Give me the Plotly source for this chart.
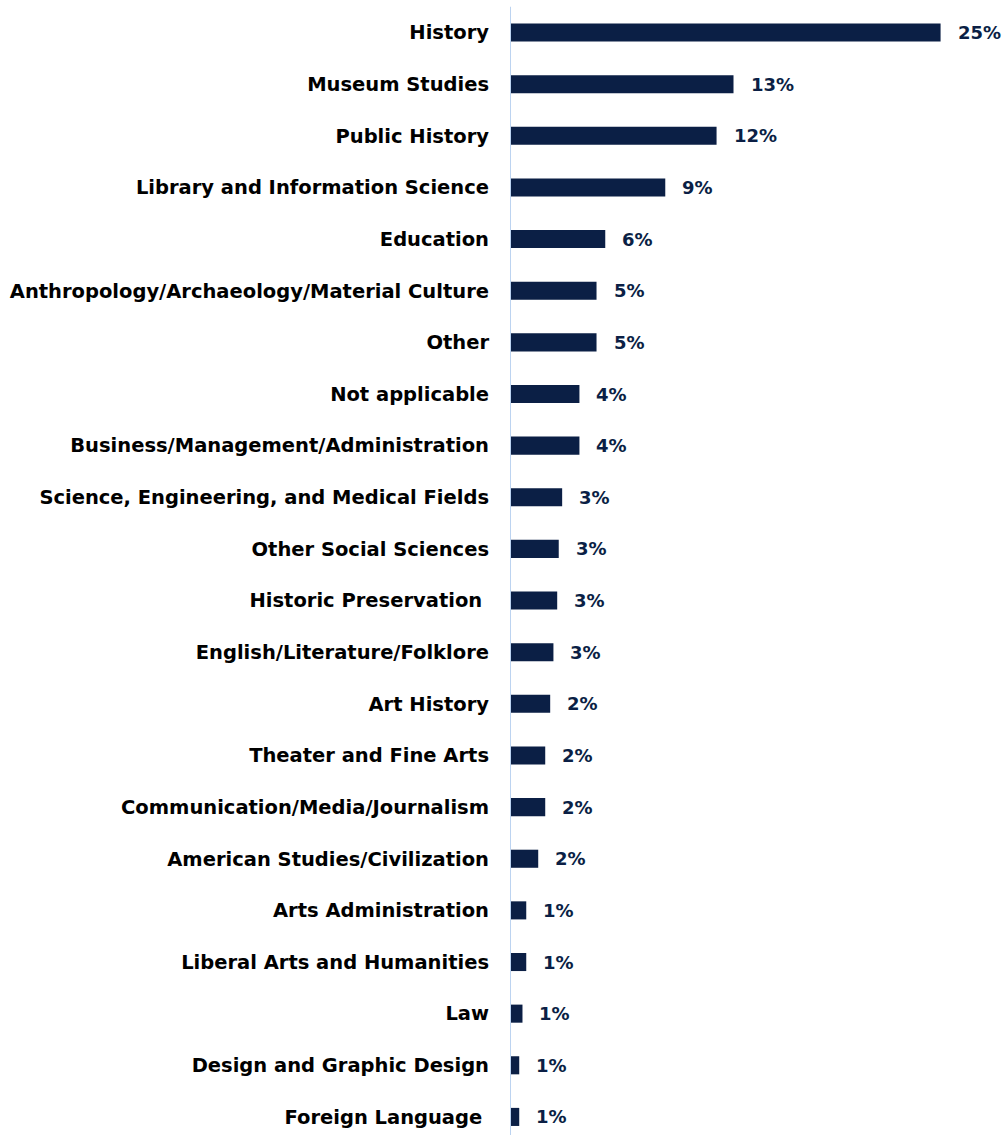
import plotly.graph_objects as go

# Fields of study, top to bottom
fields = [
    "History",
    "Museum Studies",
    "Public History",
    "Library and Information Science",
    "Education",
    "Anthropology/Archaeology/Material Culture",
    "Other",
    "Not applicable",
    "Business/Management/Administration",
    "Science, Engineering, and Medical Fields",
    "Other Social Sciences",
    "Historic Preservation\u00a0",
    "English/Literature/Folklore",
    "Art History",
    "Theater and Fine Arts",
    "Communication/Media/Journalism",
    "American Studies/Civilization",
    "Arts Administration",
    "Liberal Arts and Humanities",
    "Law",
    "Design and Graphic Design",
    "Foreign Language\u00a0",
]

# Share of respondents (fraction)
shares = [
    0.2518, 0.1307, 0.1208, 0.0908, 0.0557, 0.0506, 0.0506, 0.0406,
    0.0406, 0.0305, 0.0285, 0.0276, 0.0254, 0.0235, 0.0206, 0.0206,
    0.0165, 0.0095, 0.0095, 0.0073, 0.0054, 0.0054,
]

NAVY = "#0b1f45"
AXIS_BLUE = "#bcd3f0"
FONT = "DejaVu Sans"

fig = go.Figure(
    go.Bar(
        x=shares,
        y=fields,
        orientation="h",
        marker=dict(color=NAVY, line=dict(width=0)),
        hoverinfo="skip",
    )
)

# Value labels placed just past each bar end
for f, v in zip(fields, shares):
    fig.add_annotation(
        x=v, y=f, xref="x", yref="y",
        text=f"{round(v * 100):.0f}%",
        showarrow=False, xanchor="left", yanchor="middle",
        xshift=15,
        font=dict(family=FONT, size=18, color=NAVY, weight="bold"),
    )

# Vertical category axis line at zero
fig.add_shape(
    type="line", xref="x", yref="y",
    x0=0, x1=0, y0=-0.5, y1=len(fields) - 0.5,
    line=dict(color=AXIS_BLUE, width=2),
)

fig.update_layout(
    width=1003,
    height=1135,
    margin=dict(l=510, r=0, t=0, b=0),
    paper_bgcolor="white",
    plot_bgcolor="white",
    bargap=0.65,
    showlegend=False,
    xaxis=dict(
        range=[0, 493 / 1710],
        showgrid=False, zeroline=False, showline=False,
        showticklabels=False, ticks="",
    ),
    yaxis=dict(
        type="category",
        categoryorder="array",
        categoryarray=fields,
        range=[21.35, -0.63],
        showgrid=False, zeroline=False, showline=False, ticks="",
        ticklabelstandoff=20,
        tickfont=dict(family=FONT, size=19.5, color="#000000", weight="bold"),
    ),
)

fig.write_html("out.html")
